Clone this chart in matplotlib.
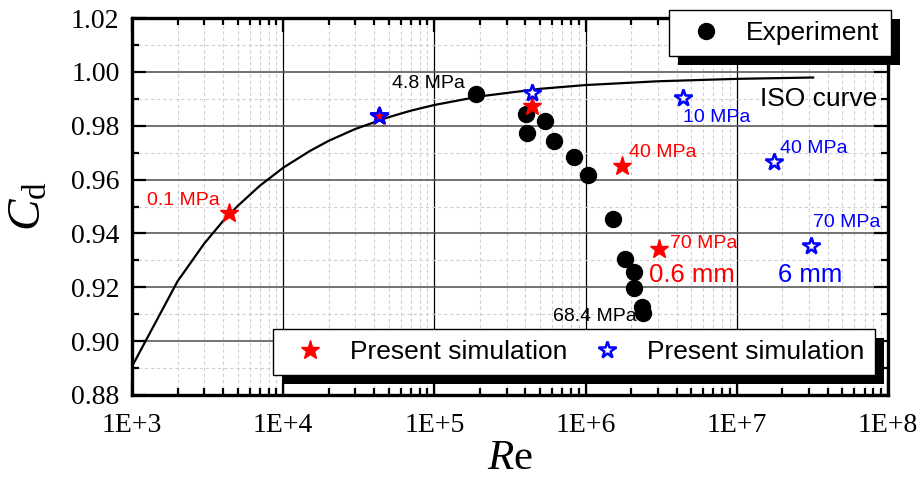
import numpy as np
import matplotlib.pyplot as plt
from matplotlib.ticker import FixedLocator, NullFormatter, MultipleLocator
from matplotlib.patches import Rectangle

plt.rcParams['font.family'] = ['Liberation Sans', 'DejaVu Sans']
plt.rcParams['mathtext.fontset'] = 'custom'
plt.rcParams['mathtext.it'] = 'Liberation Serif:italic'
plt.rcParams['mathtext.rm'] = 'Liberation Serif'

# experiment (black dots)
exp_re = [1.89e5, 4.05e5, 5.37e5, 4.11e5, 6.17e5, 8.37e5, 1.04e6, 1.52e6,
          1.82e6, 2.08e6, 2.08e6, 2.35e6, 2.41e6]
exp_cd = [0.9918, 0.9842, 0.9818, 0.9773, 0.9742, 0.9683, 0.9617, 0.9454,
          0.9305, 0.9256, 0.9196, 0.9127, 0.9105]

# present simulation, 0.6 mm (red filled stars)
sim06_re = [4.39e3, 4.32e4, 4.39e5, 1.75e6, 3.06e6]
sim06_cd = [0.9476, 0.9836, 0.9873, 0.9652, 0.9342]

# present simulation, 6 mm (blue open stars)
sim6_re = [4.32e4, 4.39e5, 4.39e6, 1.77e7, 3.08e7]
sim6_cd = [0.9836, 0.9920, 0.9903, 0.9666, 0.9354]

# ISO curve
iso_re = [1e3, 2e3, 3e3, 4e3, 5e3, 7e3, 1e4, 1.5e4, 2e4, 3e4, 5e4, 7e4,
          1e5, 2e5, 5e5, 1e6, 3e6, 1e7, 3.2e7]
iso_cd = [0.8906, 0.9222, 0.9362, 0.9446, 0.9502, 0.9577, 0.9644, 0.9706,
          0.9744, 0.9788, 0.9832, 0.9856, 0.9877, 0.9909, 0.9937, 0.9951,
          0.9965, 0.9974, 0.9979]

xticks = [1e3, 1e4, 1e5, 1e6, 1e7, 1e8]
xlabels = ['1E+3', '1E+4', '1E+5', '1E+6', '1E+7', '1E+8']

fig = plt.figure(figsize=(9.24, 4.83), dpi=100)
ax = fig.add_axes([132/924, 88/483, 756/924, 377/483])

ax.plot(iso_re, iso_cd, color='black', lw=1.6, zorder=3)
exp_h, = ax.plot(exp_re, exp_cd, 'o', color='black', ms=11.5, ls='none', zorder=4, label='Experiment')
red_h, = ax.plot(sim06_re, sim06_cd, '*', color='red', ms=14, ls='none', zorder=5,
                 label='Present simulation')
blue_h, = ax.plot(sim6_re, sim6_cd, '*', mfc='white', mec='blue', mew=1.8, ms=13, ls='none',
                  zorder=6, label='Present simulation')
# the blue star over the red one at 4.3e4 is hollow, so red shows through
ax.plot(sim6_re[:1], sim6_cd[:1], '*', mfc='red', mec='blue', mew=1.8, ms=13, ls='none', zorder=6)

ax.set_xscale('log')
ax.set_xlim(1e3, 1e8)
ax.set_ylim(0.88, 1.02)
ax.xaxis.set_major_locator(FixedLocator(xticks))
ax.set_xticklabels(xlabels)
ax.xaxis.set_minor_locator(FixedLocator([m * 10**e for e in range(3, 8) for m in range(2, 10)]))
ax.xaxis.set_minor_formatter(NullFormatter())
ax.yaxis.set_major_locator(MultipleLocator(0.02))
ax.yaxis.set_minor_locator(MultipleLocator(0.01))
ax.set_yticks(np.arange(0.88, 1.021, 0.02))
ax.set_yticklabels(['%.2f' % v for v in np.arange(0.88, 1.021, 0.02)])

for lab in ax.get_xticklabels() + ax.get_yticklabels():
    lab.set_family('Liberation Serif')
    lab.set_fontsize(20)

ax.tick_params(which='both', direction='in', top=True, right=True, width=1.6)
ax.tick_params(which='major', length=10)
ax.tick_params(which='minor', length=5)
ax.tick_params(axis='x', which='major', pad=13)
ax.tick_params(axis='y', which='major', pad=9)
for s in ax.spines.values():
    s.set_linewidth(2.4)

ax.grid(which='minor', color='#d0d0d0', ls='--', lw=0.8, dashes=(3, 2.5))
ax.xaxis.grid(which='major', color='black', lw=0.9, ls='-')
ax.yaxis.grid(which='major', color='#5a5a5a', lw=1.2, ls='-')
ax.set_axisbelow(True)

ax.set_xlabel(r'$R\mathrm{e}$', fontsize=31)
ax.xaxis.set_label_coords(0.5, -0.115)
ax.set_ylabel(r'$C_\mathrm{d}$', fontsize=34)
ax.yaxis.set_label_coords(-0.108, 0.5)

tk = dict(fontsize=14, va='center')
ax.text(1.58e5, 0.9955, '4.8 MPa', ha='right', color='black', **tk)
ax.text(2.18e6, 0.9093, '68.4 MPa', ha='right', color='black', **tk)
ax.text(1.26e3, 0.9524, '0.1 MPa', ha='left', color='red', **tk)
ax.text(1.93e6, 0.9702, '40 MPa', ha='left', color='red', **tk)
ax.text(3.6e6, 0.9361, '70 MPa', ha='left', color='red', **tk)
ax.text(4.39e6, 0.9832, '10 MPa', ha='left', color='blue', **tk)
ax.text(1.93e7, 0.9717, '40 MPa', ha='left', color='blue', **tk)
ax.text(3.18e7, 0.9442, '70 MPa', ha='left', color='blue', **tk)
ax.text(2.61e6, 0.9246, '0.6 mm', ha='left', va='center', color='red', fontsize=18.5)
ax.text(1.87e7, 0.9246, '6 mm', ha='left', va='center', color='blue', fontsize=18.5)
ax.text(1.42e7, 0.9899, 'ISO curve', ha='left', va='center', color='black', fontsize=19)

legkw = dict(fontsize=19, frameon=True, fancybox=False, framealpha=1, edgecolor='black',
             borderaxespad=0, handletextpad=0.5, borderpad=0.42)
leg1 = fig.legend(handles=[exp_h], loc='upper left',
                  bbox_to_anchor=(669/924, 1 - 10/483), **legkw)
leg2 = fig.legend(handles=[red_h, blue_h], loc='upper left', ncol=2, columnspacing=0.5,
                  bbox_to_anchor=(273/924, 1 - 329/483), **legkw)
for lg in (leg1, leg2):
    lg.get_frame().set_linewidth(1.0)
    lg.set_zorder(5)

# Origin-style black drop shadow behind each legend box
fig.canvas.draw()
inv = fig.transFigure.inverted()
for lg in (leg1, leg2):
    bb = lg.get_frame().get_window_extent()
    (x0, y0), (x1, y1) = inv.transform([[bb.x0 + 9, bb.y0 - 9], [bb.x1 + 9, bb.y1 - 9]])
    fig.add_artist(Rectangle((x0, y0), x1 - x0, y1 - y0, transform=fig.transFigure,
                             facecolor='black', edgecolor='none', zorder=4))

fig.savefig('out.png', dpi=100)
